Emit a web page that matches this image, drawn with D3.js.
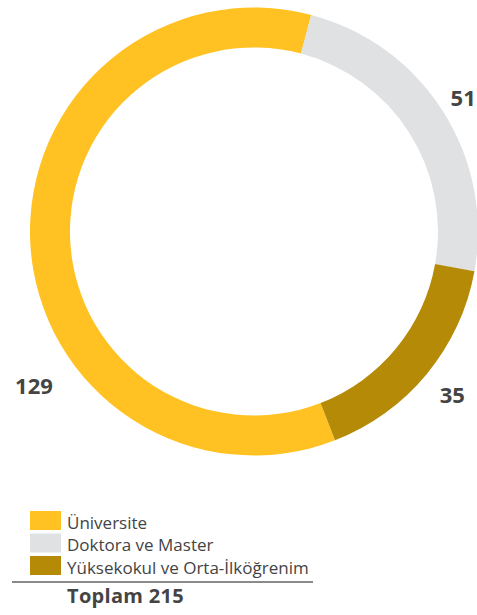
<!DOCTYPE html>
<html><head><meta charset="utf-8">
<script src="https://cdn.jsdelivr.net/npm/d3@7"></script>
<style>body{margin:0;background:#fff}svg{display:block}</style>
</head><body>
<script>
const categories = ["Üniversite", "Doktora ve Master", "Yüksekokul ve Orta-İlköğrenim"];
const values = [129, 51, 35];
const colors = ["#FFC222", "#E0E1E3", "#B58A07"];
const totalLabel = "Toplam 215";

const W = 477, H = 615;
const svg = d3.select("body").append("svg").attr("width", W).attr("height", H);
const cx = 254, cy = 231.5, R = 224, r = 184;
const deg = Math.PI / 180;
const start = 158.8 * deg;

const pie = d3.pie().sort(null).value(d => d).startAngle(start).endAngle(start + 2 * Math.PI);
const arcs = pie(values);
const arc = d3.arc().innerRadius(r).outerRadius(R);
const g = svg.append("g").attr("transform", `translate(${cx},${cy})`);
g.selectAll("path").data(arcs).enter().append("path")
  .attr("d", arc).attr("fill", (d, i) => colors[i]);

// value labels
const labelPlace = [{a: 234.9, rad: 269}, {a: null, rad: 248}, {a: null, rad: 257}];
g.selectAll("text.val").data(arcs).enter().append("text")
  .attr("class", "val")
  .attr("x", (d, i) => { const a = labelPlace[i].a !== null ? labelPlace[i].a * deg : (d.startAngle + d.endAngle) / 2; return Math.sin(a) * labelPlace[i].rad; })
  .attr("y", (d, i) => { const a = labelPlace[i].a !== null ? labelPlace[i].a * deg : (d.startAngle + d.endAngle) / 2; return -Math.cos(a) * labelPlace[i].rad; })
  .attr("dy", "0.36em")
  .attr("text-anchor", "middle")
  .attr("font-family", "'Open Sans', sans-serif").attr("font-weight", "bold")
  .attr("font-size", 22).attr("fill", "#444")
  .text(d => d.data);

// legend
const leg = svg.append("g").attr("transform", "translate(30,511)");
const rows = leg.selectAll("g").data(categories).enter().append("g")
  .attr("transform", (d, i) => `translate(0,${i * 22.5})`);
rows.append("rect").attr("width", 31).attr("height", 19).attr("fill", (d, i) => colors[i]);
rows.append("text").attr("x", 37).attr("y", 17.5)
  .attr("font-family", "'Open Sans', sans-serif").attr("font-size", 17).attr("fill", "#444")
  .text(d => d);

svg.append("line").attr("x1", 12).attr("x2", 313).attr("y1", 582).attr("y2", 582)
  .attr("stroke", "#8a8a8a").attr("stroke-width", 2);
svg.append("text").attr("x", 67).attr("y", 603)
  .attr("font-family", "'Open Sans', sans-serif").attr("font-weight", "bold")
  .attr("font-size", 20).attr("letter-spacing", 0.3).attr("fill", "#444").text(totalLabel);
</script>
</body></html>
